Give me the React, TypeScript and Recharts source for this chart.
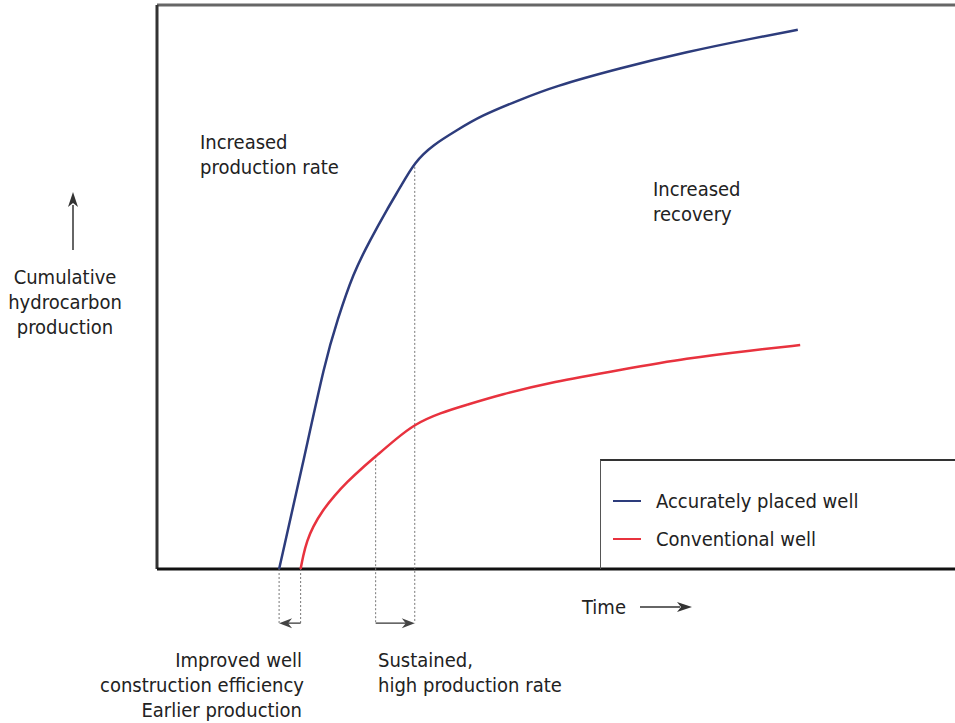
import React from "react";
import { LineChart, Line, XAxis, YAxis, ReferenceLine, Legend } from "recharts";

// Time (arbitrary units, 0..100) and cumulative production (0..100)
const blueTime = [15.3, 18.2, 21.1, 22.6, 24.6, 26.7, 28.8, 30.5, 32.3, 34.6, 37.6, 40.5, 45.5, 49.6, 58.0, 66.4, 74.7, 80.3];
const blueValue = [0, 18.1, 37.1, 44.1, 52.5, 58.3, 63.7, 67.7, 72.2, 75.2, 77.8, 80.3, 83.2, 85.5, 88.8, 91.7, 94.1, 95.6];
const redTime = [18.0, 18.3, 18.8, 19.5, 20.8, 22.3, 23.8, 25.7, 27.6, 29.9, 32.3, 35.5, 38.8, 43.0, 49.6, 58.0, 66.4, 74.7, 80.6];
const redValue = [0, 2.3, 5.0, 7.4, 10.5, 13.1, 15.4, 17.9, 20.2, 23.0, 25.7, 27.7, 29.1, 30.9, 33.2, 35.3, 37.4, 38.8, 39.7];

const seriesNames = ["Accurately placed well", "Conventional well"];
const seriesColors = ["#2d3c7c", "#e8323e"];

// Guide markers: time, value where the dotted guide starts
const guideTimes = [15.3, 18.0, 27.4, 32.3];
const guideTops = [0, 0, 20.0, 72.0];
const guideBottom = -9.6;
// Arrows between guides: [from, to]
const arrowPairs = [
  [18.0, 15.3],
  [27.4, 32.3],
];

const blueData = blueTime.map((t, i) => ({ t, v: blueValue[i] }));
const redData = redTime.map((t, i) => ({ t, v: redValue[i] }));

const FONT = "'Liberation Sans Narrow', 'DejaVu Sans Condensed', Roboto, sans-serif";
const TEXT = "#222";

const ArrowShape = (props: any) => {
  const { x1, y1, x2, y2 } = props;
  const dir = x2 > x1 ? 1 : -1;
  const hx = x2;
  return (
    <g>
      <line x1={x1} y1={y1} x2={x2 - dir * 8} y2={y2} stroke="#555" strokeWidth={1.5} />
      <polygon
        points={`${hx},${y2} ${hx - dir * 13},${y2 - 5} ${hx - dir * 9},${y2} ${hx - dir * 13},${y2 + 5}`}
        fill="#444"
      />
    </g>
  );
};

const LegendContent = () => (
  <div
    style={{
      width: 355,
      height: 110,
      boxSizing: "border-box",
      borderTop: "2px solid #333",
      borderLeft: "1.5px solid #555",
      fontFamily: FONT,
      fontSize: 20,
      color: TEXT,
      position: "relative",
    }}
  >
    {seriesNames.map((n, i) => (
      <div
        key={n}
        style={{ position: "absolute", left: 12, top: 28 + i * 38, height: 24, display: "flex", alignItems: "center" }}
      >
        <div style={{ width: 28, height: 2.5, background: seriesColors[i], marginRight: 15 }} />
        <span>{n}</span>
      </div>
    ))}
  </div>
);

const Txt = ({ left, top, width, align, children }: any) => (
  <div
    style={{
      position: "absolute",
      left,
      top,
      width,
      textAlign: align || "left",
      fontFamily: FONT,
      fontSize: 20,
      lineHeight: "25px",
      color: TEXT,
      whiteSpace: "nowrap",
    }}
  >
    {children}
  </div>
);

export default function App() {
  return (
    <div style={{ position: "absolute", left: 0, top: 0, width: 955, height: 723, background: "#fff" }}>
      <LineChart width={955} height={723} data={blueData} margin={{ top: 5, right: 0, left: 157, bottom: 154 }}>
        <XAxis type="number" dataKey="t" domain={[0, 100]} hide />
        <YAxis type="number" domain={[0, 100]} hide />
        <ReferenceLine y={100} stroke="#666" strokeWidth={3} ifOverflow="visible" />
        <ReferenceLine x={0} stroke="#333" strokeWidth={3} ifOverflow="visible" />
        <ReferenceLine y={0} stroke="#111" strokeWidth={3} ifOverflow="visible" />
        {guideTimes.map((t, i) => (
          <ReferenceLine
            key={"g" + i}
            segment={[
              { x: t, y: guideTops[i] },
              { x: t, y: guideBottom },
            ]}
            stroke="#777"
            strokeWidth={1}
            strokeDasharray="2 2"
            ifOverflow="visible"
          />
        ))}
        {arrowPairs.map((p, i) => (
          <ReferenceLine
            key={"a" + i}
            segment={[
              { x: p[0], y: guideBottom },
              { x: p[1], y: guideBottom },
            ]}
            ifOverflow="visible"
            shape={ArrowShape}
          />
        ))}
        <Line
          data={blueData}
          dataKey="v"
          type="basis"
          stroke={seriesColors[0]}
          strokeWidth={2.5}
          dot={false}
          isAnimationActive={false}
          name={seriesNames[0]}
        />
        <Line
          data={redData}
          dataKey="v"
          type="basis"
          stroke={seriesColors[1]}
          strokeWidth={2.5}
          dot={false}
          isAnimationActive={false}
          name={seriesNames[1]}
        />
        <Legend
          layout="vertical"
          align="center"
          verticalAlign="middle"
          wrapperStyle={{ left: 600, top: 459, width: 355, height: 110 }}
          content={LegendContent}
        />
      </LineChart>

      <Txt left={200} top={130}>
        Increased
        <br />
        production rate
      </Txt>
      <Txt left={653} top={177}>
        Increased
        <br />
        recovery
      </Txt>
      <Txt left={0} top={265} width={130} align="center">
        Cumulative
        <br />
        hydrocarbon
        <br />
        production
      </Txt>
      <Txt left={100} top={648} width={202} align="right">
        Improved well
        <br />
        construction efficiency
        <br />
        Earlier production
      </Txt>
      <Txt left={378} top={648}>
        Sustained,
        <br />
        high production rate
      </Txt>
      <Txt left={582} top={595}>
        Time
      </Txt>

      <svg style={{ position: "absolute", left: 0, top: 0 }} width={955} height={723} pointerEvents="none">
        <line x1={73} y1={250} x2={73} y2={205} stroke="#333" strokeWidth={1.5} />
        <polygon points="73,192 68,207 73,203 78,207" fill="#333" />
        <line x1={640} y1={607} x2={680} y2={607} stroke="#333" strokeWidth={1.5} />
        <polygon points="692,607 677,602 681,607 677,612" fill="#333" />
      </svg>
    </div>
  );
}
